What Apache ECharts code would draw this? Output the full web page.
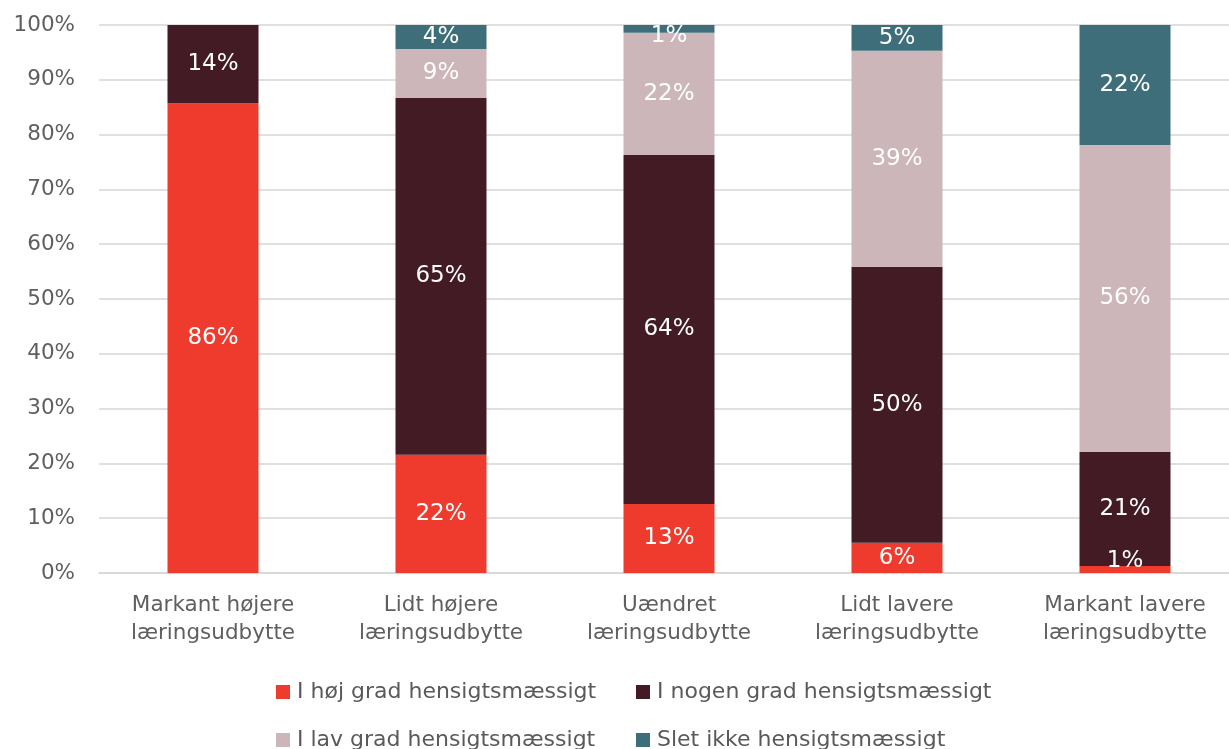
<!DOCTYPE html>
<html>
<head>
<meta charset="utf-8">
<script src="https://cdn.jsdelivr.net/npm/echarts@6/dist/echarts.min.js"></script>
<style>
html,body{margin:0;padding:0;background:#fff;overflow:hidden;}
#c{width:1245px;height:749px;}
</style>
</head>
<body>
<div id="c"></div>
<script>
const categories = ["Markant højere\nlæringsudbytte","Lidt højere\nlæringsudbytte","Uændret\nlæringsudbytte","Lidt lavere\nlæringsudbytte","Markant lavere\nlæringsudbytte"];
const seriesNames = ["I høj grad hensigtsmæssigt","I nogen grad hensigtsmæssigt","I lav grad hensigtsmæssigt","Slet ikke hensigtsmæssigt"];
const hoej = [85.7, 21.6, 12.6, 5.5, 1.3];
const nogen = [14.3, 65.1, 63.7, 50.4, 20.8];
const lav = [0, 8.9, 22.3, 39.4, 56.0];
const slet = [0, 4.4, 1.4, 4.7, 21.9];
const yTicks = [0,10,20,30,40,50,60,70,80,90,100];
const colors = ["#EE3B2E","#421B25","#CDB6B9","#3D6E7A"];

const FONT = "DejaVu Sans";
const chart = echarts.init(document.getElementById('c'), null, {renderer:'canvas'});
const values = [hoej, nogen, lav, slet];
const legendPos = [[276,681],[636,681],[276,729],[636,729]];
chart.setOption({
  animation:false,
  textStyle:{fontFamily:FONT},
  grid:{left:99, top:25, width:1140, height:548},
  legend: seriesNames.map((n,i)=>({
    data:[n], left:legendPos[i][0], top:legendPos[i][1], padding:0,
    icon:'rect', itemWidth:14, itemHeight:14, itemGap:6,
    textStyle:{fontFamily:FONT, fontSize:22, color:'#5a5a5a', padding:[0,0,0,2]}
  })),
  xAxis:{
    type:'category', data:categories,
    axisLine:{lineStyle:{color:'#d6d6d6', width:1.5}},
    axisTick:{show:false},
    axisLabel:{fontFamily:FONT, fontSize:21.5, color:'#5f5f5f', lineHeight:28, margin:18, interval:0}
  },
  yAxis:{
    type:'value', min:yTicks[0], max:yTicks[yTicks.length-1], interval:10,
    axisLabel:{formatter:v=>v+'%', fontFamily:FONT, fontSize:21.5, color:'#5f5f5f', margin:24},
    axisLine:{show:false}, axisTick:{show:false},
    splitLine:{lineStyle:{color:'#d6d6d6', width:1.5}}
  },
  labelLayout: function(p){
    if (p.rect.height < p.labelRect.height) {
      const d = (p.labelRect.height - p.rect.height) / 2;
      if (p.seriesIndex === seriesNames.length - 1) return {dy: d};
      if (p.seriesIndex === 0) return {dy: -d};
    }
    return {};
  },
  series: seriesNames.map((n,i)=>({
    name:n, type:'bar', stack:'s', barWidth:91,
    data:values[i],
    itemStyle:{color:colors[i]},
    label:{show:true, position:'inside', color:'#ffffff', fontFamily:FONT, fontSize:23,
      formatter:p=>p.value>0?Math.round(p.value)+'%':''}
  }))
});
</script>
</body>
</html>
